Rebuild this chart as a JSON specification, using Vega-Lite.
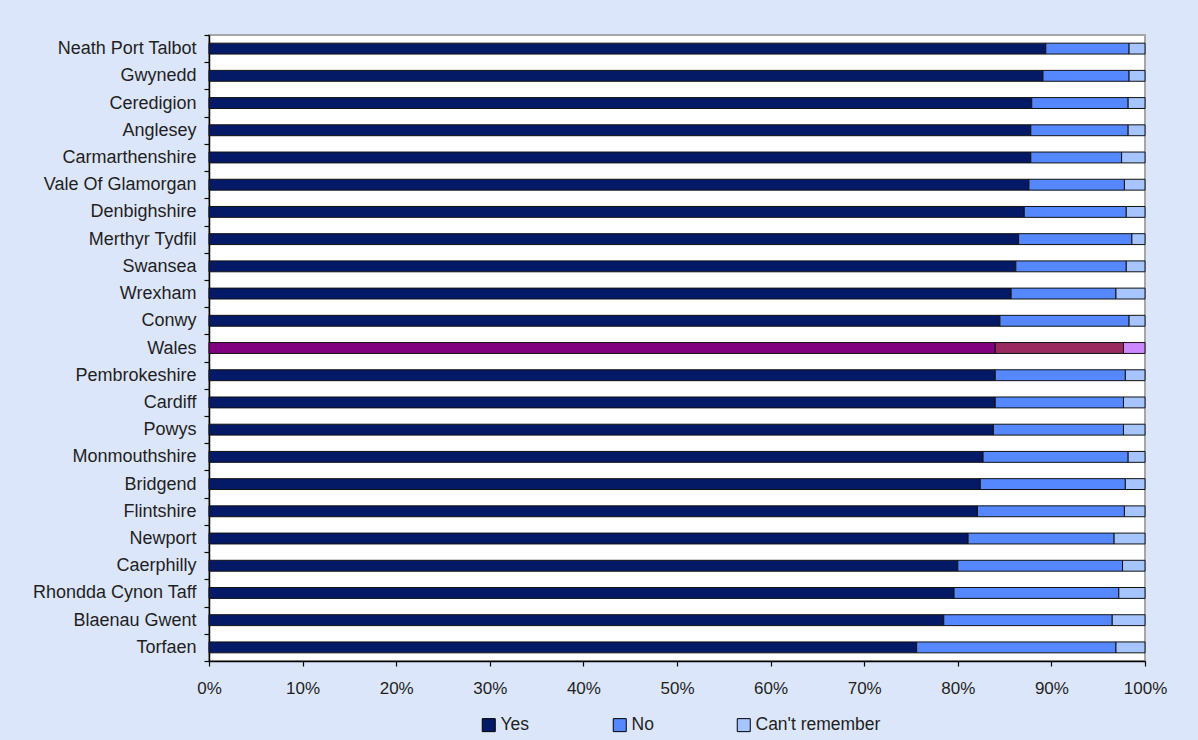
{
  "$schema": "https://vega.github.io/schema/vega-lite/v6.json",
  "width": 936,
  "height": 626,
  "autosize": {"type": "none"},
  "padding": {"left": 209, "top": 35, "right": 53, "bottom": 79},
  "background": "#dce6fa",
  "config": {
    "font": "Liberation Sans",
    "view": {"fill": "#ffffff", "stroke": "#a6a6a6", "strokeWidth": 2},
    "axis": {
      "domainColor": "#000000",
      "domainWidth": 1.5,
      "tickColor": "#000000",
      "tickWidth": 1.2,
      "tickSize": 5,
      "grid": false,
      "labelFont": "Liberation Sans",
      "labelFontSize": 17,
      "labelColor": "#1f1f1f",
      "title": null
    }
  },
  "data": {
    "values": [
      {"region": "Neath Port Talbot", "response": "Yes", "pct": 89.4},
      {"region": "Neath Port Talbot", "response": "No", "pct": 8.9},
      {"region": "Neath Port Talbot", "response": "Can't remember", "pct": 1.7},
      {"region": "Gwynedd", "response": "Yes", "pct": 89.1},
      {"region": "Gwynedd", "response": "No", "pct": 9.2},
      {"region": "Gwynedd", "response": "Can't remember", "pct": 1.7},
      {"region": "Ceredigion", "response": "Yes", "pct": 87.9},
      {"region": "Ceredigion", "response": "No", "pct": 10.3},
      {"region": "Ceredigion", "response": "Can't remember", "pct": 1.8},
      {"region": "Anglesey", "response": "Yes", "pct": 87.8},
      {"region": "Anglesey", "response": "No", "pct": 10.4},
      {"region": "Anglesey", "response": "Can't remember", "pct": 1.8},
      {"region": "Carmarthenshire", "response": "Yes", "pct": 87.8},
      {"region": "Carmarthenshire", "response": "No", "pct": 9.7},
      {"region": "Carmarthenshire", "response": "Can't remember", "pct": 2.5},
      {"region": "Vale Of Glamorgan", "response": "Yes", "pct": 87.6},
      {"region": "Vale Of Glamorgan", "response": "No", "pct": 10.2},
      {"region": "Vale Of Glamorgan", "response": "Can't remember", "pct": 2.2},
      {"region": "Denbighshire", "response": "Yes", "pct": 87.1},
      {"region": "Denbighshire", "response": "No", "pct": 10.9},
      {"region": "Denbighshire", "response": "Can't remember", "pct": 2.0},
      {"region": "Merthyr Tydfil", "response": "Yes", "pct": 86.5},
      {"region": "Merthyr Tydfil", "response": "No", "pct": 12.1},
      {"region": "Merthyr Tydfil", "response": "Can't remember", "pct": 1.4},
      {"region": "Swansea", "response": "Yes", "pct": 86.2},
      {"region": "Swansea", "response": "No", "pct": 11.8},
      {"region": "Swansea", "response": "Can't remember", "pct": 2.0},
      {"region": "Wrexham", "response": "Yes", "pct": 85.7},
      {"region": "Wrexham", "response": "No", "pct": 11.2},
      {"region": "Wrexham", "response": "Can't remember", "pct": 3.1},
      {"region": "Conwy", "response": "Yes", "pct": 84.5},
      {"region": "Conwy", "response": "No", "pct": 13.8},
      {"region": "Conwy", "response": "Can't remember", "pct": 1.7},
      {"region": "Wales", "response": "Yes", "pct": 84.0},
      {"region": "Wales", "response": "No", "pct": 13.7},
      {"region": "Wales", "response": "Can't remember", "pct": 2.3},
      {"region": "Pembrokeshire", "response": "Yes", "pct": 84.0},
      {"region": "Pembrokeshire", "response": "No", "pct": 13.9},
      {"region": "Pembrokeshire", "response": "Can't remember", "pct": 2.1},
      {"region": "Cardiff", "response": "Yes", "pct": 84.0},
      {"region": "Cardiff", "response": "No", "pct": 13.7},
      {"region": "Cardiff", "response": "Can't remember", "pct": 2.3},
      {"region": "Powys", "response": "Yes", "pct": 83.8},
      {"region": "Powys", "response": "No", "pct": 13.9},
      {"region": "Powys", "response": "Can't remember", "pct": 2.3},
      {"region": "Monmouthshire", "response": "Yes", "pct": 82.7},
      {"region": "Monmouthshire", "response": "No", "pct": 15.5},
      {"region": "Monmouthshire", "response": "Can't remember", "pct": 1.8},
      {"region": "Bridgend", "response": "Yes", "pct": 82.4},
      {"region": "Bridgend", "response": "No", "pct": 15.5},
      {"region": "Bridgend", "response": "Can't remember", "pct": 2.1},
      {"region": "Flintshire", "response": "Yes", "pct": 82.1},
      {"region": "Flintshire", "response": "No", "pct": 15.7},
      {"region": "Flintshire", "response": "Can't remember", "pct": 2.2},
      {"region": "Newport", "response": "Yes", "pct": 81.1},
      {"region": "Newport", "response": "No", "pct": 15.6},
      {"region": "Newport", "response": "Can't remember", "pct": 3.3},
      {"region": "Caerphilly", "response": "Yes", "pct": 80.0},
      {"region": "Caerphilly", "response": "No", "pct": 17.6},
      {"region": "Caerphilly", "response": "Can't remember", "pct": 2.4},
      {"region": "Rhondda Cynon Taff", "response": "Yes", "pct": 79.6},
      {"region": "Rhondda Cynon Taff", "response": "No", "pct": 17.6},
      {"region": "Rhondda Cynon Taff", "response": "Can't remember", "pct": 2.8},
      {"region": "Blaenau Gwent", "response": "Yes", "pct": 78.5},
      {"region": "Blaenau Gwent", "response": "No", "pct": 18.0},
      {"region": "Blaenau Gwent", "response": "Can't remember", "pct": 3.5},
      {"region": "Torfaen", "response": "Yes", "pct": 75.6},
      {"region": "Torfaen", "response": "No", "pct": 21.3},
      {"region": "Torfaen", "response": "Can't remember", "pct": 3.1}
    ]
  },
  "transform": [
    {"calculate": "indexof(['Yes', 'No', \"Can't remember\"], datum.response)", "as": "stackOrder"}
  ],
  "encoding": {
    "y": {
      "field": "region",
      "type": "nominal",
      "sort": ["Neath Port Talbot", "Gwynedd", "Ceredigion", "Anglesey", "Carmarthenshire", "Vale Of Glamorgan", "Denbighshire", "Merthyr Tydfil", "Swansea", "Wrexham", "Conwy", "Wales", "Pembrokeshire", "Cardiff", "Powys", "Monmouthshire", "Bridgend", "Flintshire", "Newport", "Caerphilly", "Rhondda Cynon Taff", "Blaenau Gwent", "Torfaen"],
      "scale": {"paddingInner": 0, "paddingOuter": 0},
      "axis": {"tickBand": "extent", "labelPadding": 8, "labelFontSize": 18}
    },
    "x": {
      "field": "pct",
      "type": "quantitative",
      "stack": "zero",
      "scale": {"domain": [0, 100], "nice": false},
      "axis": {"values": [0, 10, 20, 30, 40, 50, 60, 70, 80, 90, 100], "labelExpr": "datum.value + '%'", "labelPadding": 14, "labelFlush": false}
    },
    "order": {"field": "stackOrder", "type": "quantitative"}
  },
  "layer": [
    {
      "transform": [{"filter": "datum.region !== 'Wales'"}],
      "mark": {"type": "bar", "height": {"band": 0.4}, "stroke": "#111111", "strokeWidth": 1},
      "encoding": {
        "color": {
          "field": "response",
          "type": "nominal",
          "scale": {"domain": ["Yes", "No", "Can't remember"], "range": ["#051a66", "#5588ff", "#a6c4fd"]},
          "legend": {
            "orient": "none",
            "legendX": 271,
            "legendY": 681,
            "direction": "horizontal",
            "title": null,
            "symbolType": "square",
            "symbolSize": 169,
            "symbolStrokeColor": "#000000",
            "symbolStrokeWidth": 1,
            "symbolOpacity": 1,
            "labelFont": "Liberation Sans",
            "labelFontSize": 17.5,
            "labelColor": "#1f1f1f",
            "labelOffset": 3,
            "columnPadding": 81
          }
        }
      }
    },
    {
      "transform": [{"filter": "datum.region === 'Wales'"}],
      "mark": {"type": "bar", "height": {"band": 0.4}, "stroke": "#111111", "strokeWidth": 1},
      "encoding": {
        "color": {
          "field": "response",
          "type": "nominal",
          "scale": {"domain": ["Yes", "No", "Can't remember"], "range": ["#800080", "#99295f", "#cc88ff"]},
          "legend": null
        }
      }
    }
  ],
  "resolve": {"scale": {"color": "independent"}}
}
